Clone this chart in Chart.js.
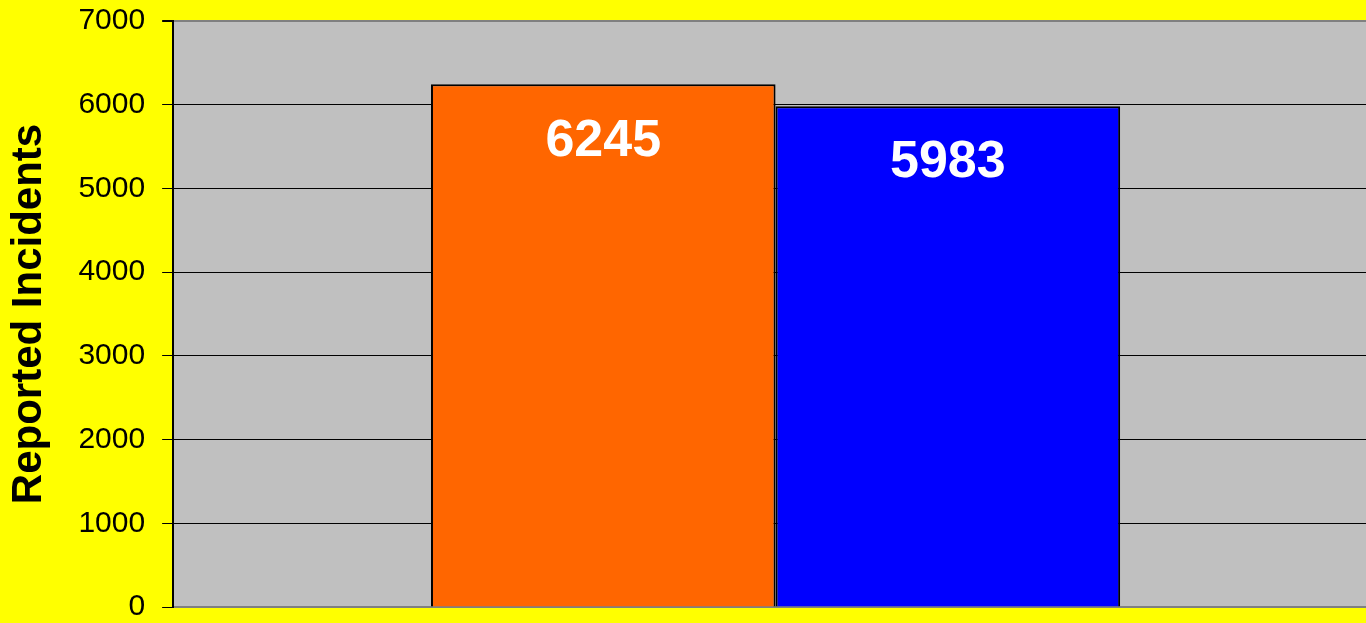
<!DOCTYPE html>
<html>
<head>
<meta charset="utf-8">
<script src="https://cdn.jsdelivr.net/npm/chart.js@4/dist/chart.umd.min.js"></script>
<style>
  html, body { margin: 0; padding: 0; background: #ffff00; overflow: hidden; }
  #wrap { width: 1378px; height: 650px; margin-top: -11px; }
</style>
</head>
<body>
<div id="wrap"><canvas id="incidentsChart" width="1378" height="650"></canvas></div>
<script>
const categories = [''];
const seriesNames = ['Series A', 'Series B'];
const seriesValues = [[6245], [5983]];
const seriesColors = ['#ff6600', '#0000ff'];
const yTicks = [0, 1000, 2000, 3000, 4000, 5000, 6000, 7000];

// фон области построения
const plotBg = {
  id: 'plotBg',
  beforeDraw(chart) {
    const a = chart.chartArea;
    const c = chart.ctx;
    c.save();
    c.fillStyle = '#c0c0c0';
    c.fillRect(a.left, a.top, a.right - a.left, a.bottom - a.top);
    c.restore();
  }
};

// подписи значений внутри столбцов
const valueLabels = {
  id: 'valueLabels',
  afterDatasetsDraw(chart) {
    const c = chart.ctx;
    c.save();
    c.fillStyle = '#ffffff';
    c.font = 'bold 52px "Liberation Sans", Arial, sans-serif';
    c.textAlign = 'center';
    c.textBaseline = 'middle';
    chart.data.datasets.forEach((ds, i) => {
      chart.getDatasetMeta(i).data.forEach((bar, j) => {
        c.fillText(String(ds.data[j]), bar.x, bar.y + 57);
      });
    });
    c.restore();
  }
};

new Chart(document.getElementById('incidentsChart'), {
  type: 'bar',
  data: {
    labels: categories,
    datasets: seriesNames.map((name, i) => ({
      label: name,
      data: seriesValues[i],
      backgroundColor: seriesColors[i],
      borderColor: '#000000',
      borderWidth: 2,
      categoryPercentage: 0.572,
      barPercentage: 1
    }))
  },
  options: {
    responsive: false,
    animation: false,
    layout: { padding: 0 },
    plugins: {
      legend: { display: false },
      tooltip: { enabled: false }
    },
    scales: {
      x: {
        grid: { display: false },
        border: { color: '#808080', width: 2 },
        ticks: { display: false }
      },
      y: {
        min: 0,
        max: 7000,
        afterBuildTicks: axis => { axis.ticks = yTicks.map(v => ({ value: v })); },
        grid: {
          color: ctx => (ctx.tick && (ctx.tick.value === 7000 || ctx.tick.value === 0)) ? '#808080' : '#000000',
          tickColor: '#000000',
          tickLength: 11,
          lineWidth: ctx => (ctx.tick && ctx.tick.value === 7000) ? 2 : 1
        },
        border: { color: '#000000', width: 2 },
        ticks: {
          color: '#000000',
          padding: 17,
          callback: v => String(v),
          font: { family: '"Liberation Sans", Arial, sans-serif', size: 30, lineHeight: 1 }
        },
        title: {
          display: true,
          text: 'Reported Incidents',
          color: '#000000',
          padding: { top: 4, bottom: 7 },
          font: { family: '"Liberation Sans", Arial, sans-serif', size: 42, weight: 'bold' }
        }
      }
    }
  },
  plugins: [plotBg, valueLabels]
});
</script>
</body>
</html>
